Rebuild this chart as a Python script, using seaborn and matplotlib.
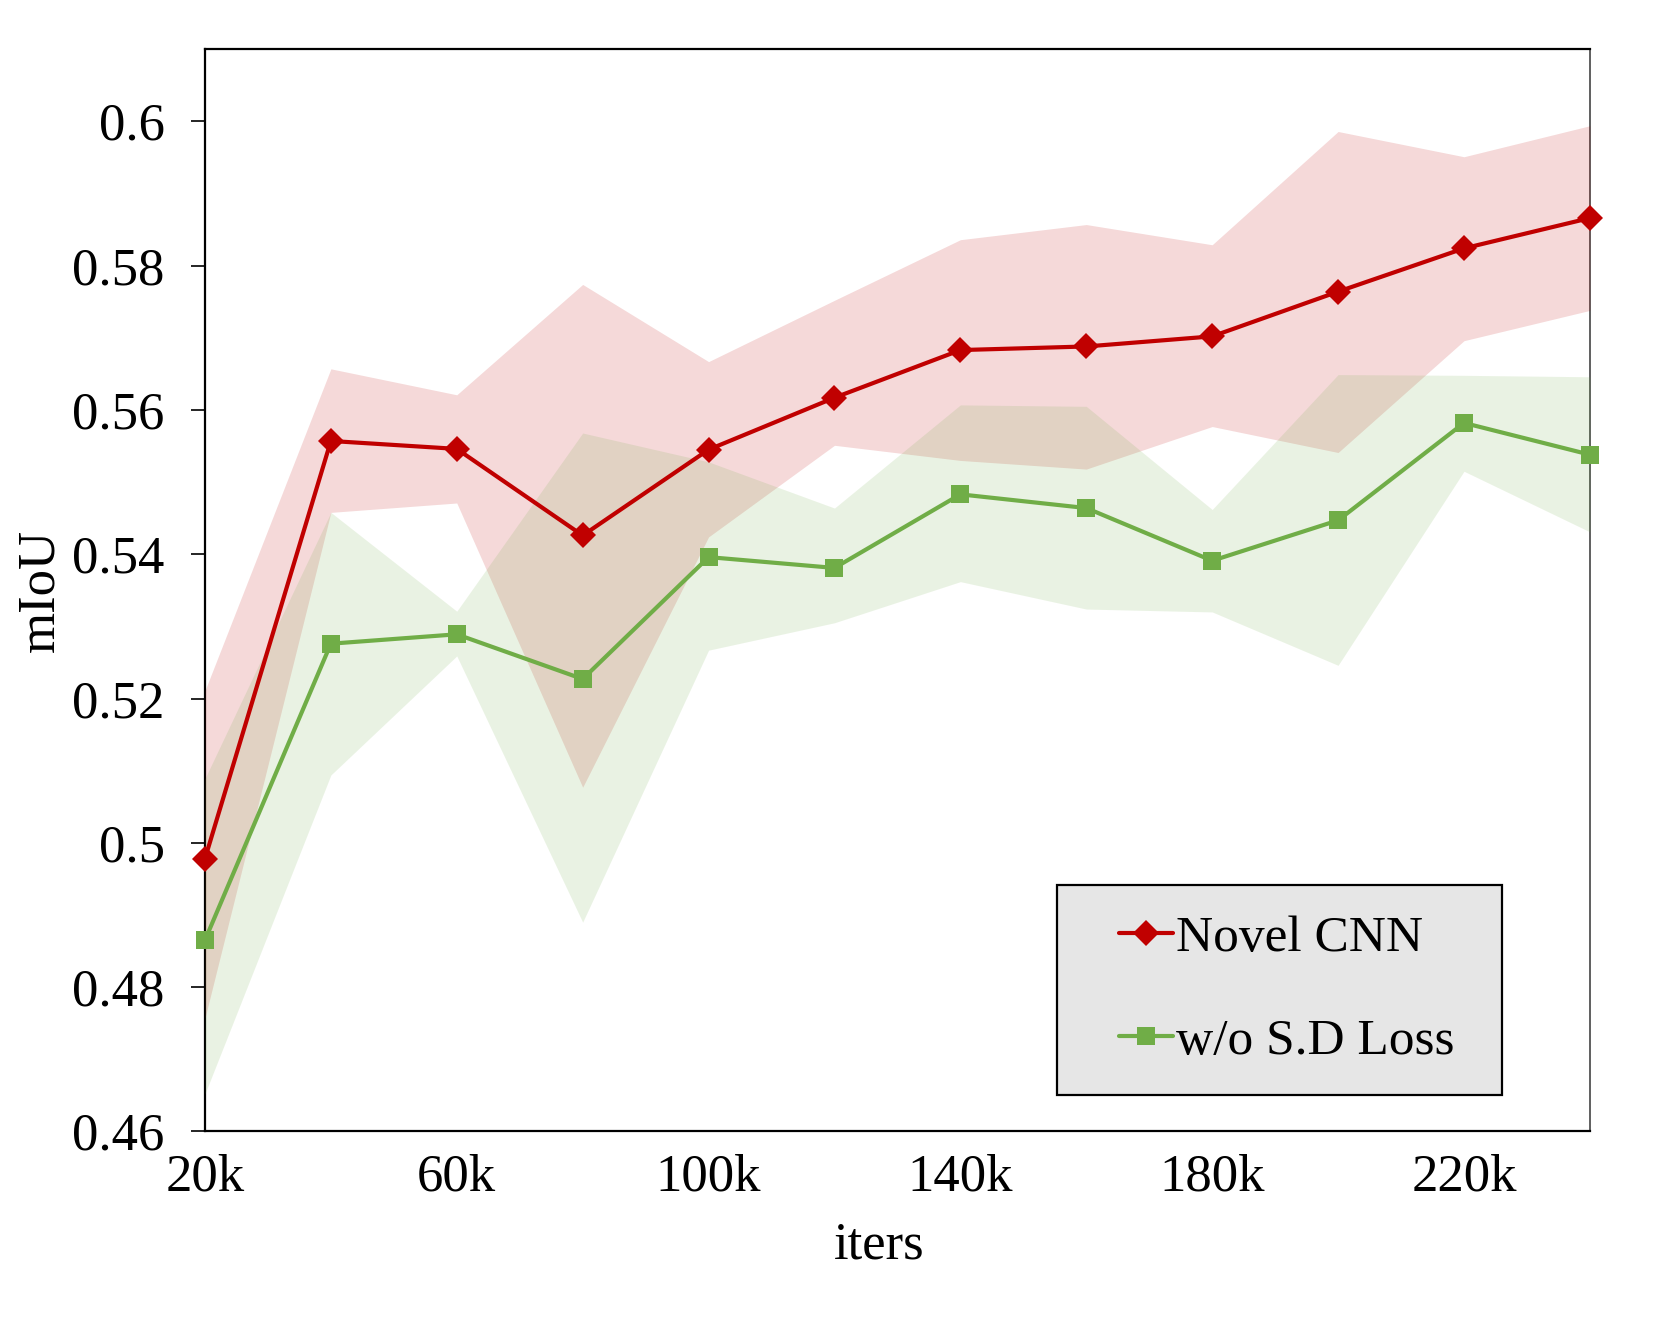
import numpy as np
import pandas as pd
import matplotlib
matplotlib.use("Agg")
import matplotlib.pyplot as plt
import seaborn as sns
from matplotlib.patches import Rectangle

# ---------------- data ----------------
iters = [20, 40, 60, 80, 100, 120, 140, 160, 180, 200, 220, 240]  # thousands

novel_mean = [0.4978, 0.5557, 0.5546, 0.5426, 0.5545, 0.5617, 0.5683, 0.5688, 0.5702, 0.5764, 0.5824, 0.5866]
novel_hi = [0.5211, 0.5657, 0.5621, 0.5774, 0.5667, 0.5752, 0.5836, 0.5857, 0.5829, 0.5986, 0.5951, 0.5994]
novel_lo = [0.4757, 0.5458, 0.5471, 0.5077, 0.5424, 0.5551, 0.5530, 0.5518, 0.5577, 0.5541, 0.5696, 0.5738]

wo_mean = [0.4865, 0.5276, 0.5289, 0.5227, 0.5396, 0.5381, 0.5483, 0.5464, 0.5391, 0.5447, 0.5582, 0.5538]
wo_hi = [0.5089, 0.5458, 0.5321, 0.5568, 0.5528, 0.5464, 0.5607, 0.5605, 0.5462, 0.5649, 0.5648, 0.5646]
wo_lo = [0.4652, 0.5094, 0.5259, 0.4890, 0.5267, 0.5305, 0.5362, 0.5324, 0.5320, 0.5246, 0.5515, 0.5431]

labels = ["Novel CNN", "w/o S.D Loss"]
colors = ["#C00000", "#70AD47"]
x_ticks = [20, 60, 100, 140, 180, 220]
y_ticks = [0.46, 0.48, 0.5, 0.52, 0.54, 0.56, 0.58, 0.6]
y_ticklabels = ["0.46", "0.48", "0.5", "0.52", "0.54", "0.56", "0.58", "0.6"]

df = pd.DataFrame({
    "iters": iters * 2,
    "mIoU": novel_mean + wo_mean,
    "model": [labels[0]] * len(iters) + [labels[1]] * len(iters),
})

# ---------------- style ----------------
sns.set_style("ticks")
plt.rcParams["font.family"] = ["Liberation Serif", "DejaVu Serif"]
plt.rcParams["text.color"] = "black"
plt.rcParams["axes.labelcolor"] = "black"
plt.rcParams["xtick.color"] = "black"
plt.rcParams["ytick.color"] = "black"

fig = plt.figure(figsize=(16.61, 13.31), dpi=100)
ax = fig.add_axes([0.1234, 0.150, 0.8338, 0.813])

# shaded bands
ax.fill_between(iters, novel_lo, novel_hi, color=colors[0], alpha=0.15, lw=0, zorder=3)
ax.fill_between(iters, wo_lo, wo_hi, color=colors[1], alpha=0.15, lw=0, zorder=3)

sns.lineplot(data=df, x="iters", y="mIoU", hue="model", style="model",
             palette=colors, markers=["D", "s"], dashes=False,
             linewidth=3.0, markersize=13, markeredgewidth=0,
             ax=ax, zorder=4, clip_on=False)

ax.set_xlim(20, 240)
ax.set_ylim(0.46, 0.61)
ax.set_xticks(x_ticks)
ax.set_xticklabels([f"{t}k" for t in x_ticks])
ax.set_yticks(y_ticks)
ax.set_yticklabels(y_ticklabels)
ax.tick_params(axis="y", labelsize=38, length=10, width=1.2, direction="out", pad=19)
ax.tick_params(axis="x", labelsize=38, length=0, pad=16)

ax.set_xlabel("iters", fontsize=38, labelpad=14)
ax.xaxis.label.set_x(0.487)
ax.set_ylabel("mIoU", fontsize=38, labelpad=6)

for side in ["left", "bottom", "top"]:
    ax.spines[side].set_linewidth(1.6)
    ax.spines[side].set_color("black")
ax.spines["right"].set_linewidth(1.2)
ax.spines["right"].set_color("#444444")

# legend: grey box drawn separately, entries centred inside it
box = Rectangle((0.6154, 0.0334), 0.3211, 0.1943, transform=ax.transAxes,
                facecolor="#E6E6E6", edgecolor="black", lw=1.6, zorder=5)
ax.add_patch(box)
handles, lbls = ax.get_legend_handles_labels()
leg = ax.legend(handles, lbls, loc="center",
                bbox_to_anchor=(0.6154 + 0.3211 / 2 + 0.005, 0.0334 + 0.1943 / 2),
                fontsize=37, frameon=False, handlelength=1.05,
                handletextpad=0.05, labelspacing=1.1, borderpad=0,
                borderaxespad=0)
leg.set_zorder(6)

fig.savefig("out.png", dpi=100)
